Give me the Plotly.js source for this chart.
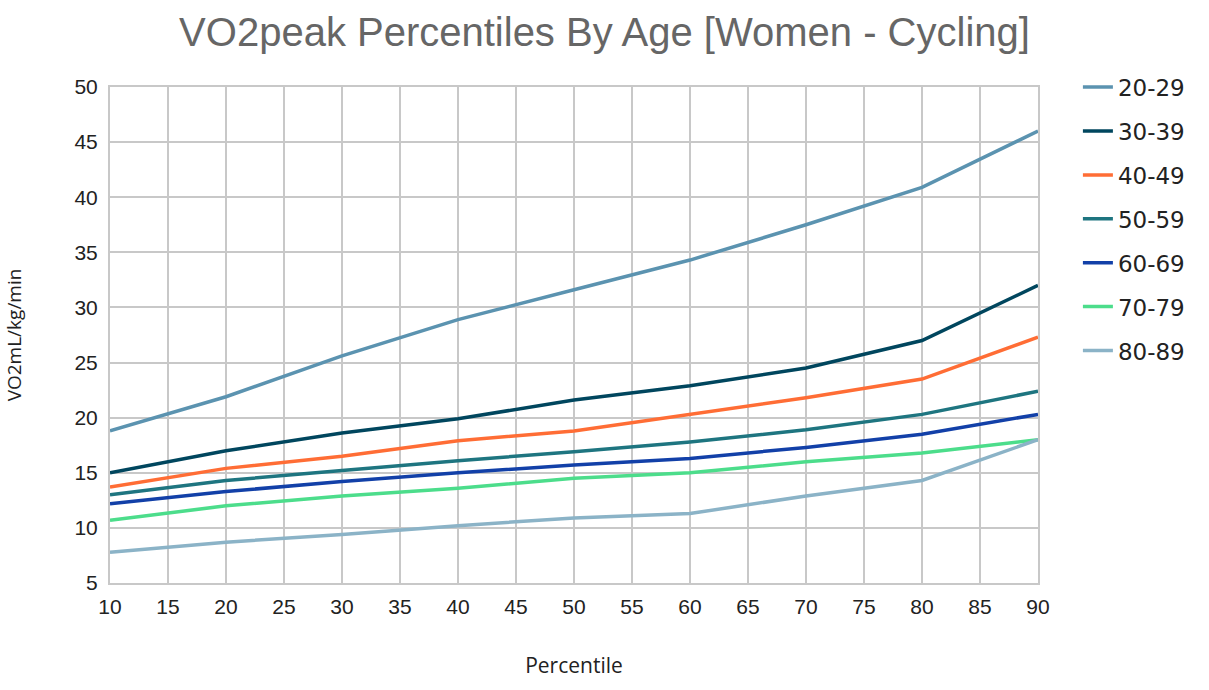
<!DOCTYPE html>
<html>
<head>
<meta charset="utf-8">
<script src="https://cdn.plot.ly/plotly-3.0.1.min.js"></script>
<style>html,body{margin:0;padding:0;background:#fff;}#chart{width:1209px;height:690px;}</style>
</head>
<body>
<div id="chart"></div>
<script>
const percentiles = [10, 20, 30, 40, 50, 60, 70, 80, 90];
const seriesNames = ["20-29", "30-39", "40-49", "50-59", "60-69", "70-79", "80-89"];
const age20_29 = [18.8, 21.9, 25.6, 28.9, 31.6, 34.3, 37.5, 40.9, 46.0];
const age30_39 = [15.0, 17.0, 18.6, 19.9, 21.6, 22.9, 24.5, 27.0, 32.0];
const age40_49 = [13.7, 15.4, 16.5, 17.9, 18.8, 20.3, 21.8, 23.5, 27.3];
const age50_59 = [13.0, 14.3, 15.2, 16.1, 16.9, 17.8, 18.9, 20.3, 22.4];
const age60_69 = [12.2, 13.3, 14.2, 15.0, 15.7, 16.3, 17.3, 18.5, 20.3];
const age70_79 = [10.7, 12.0, 12.9, 13.6, 14.5, 15.0, 16.0, 16.8, 18.0];
const age80_89 = [7.8, 8.7, 9.4, 10.2, 10.9, 11.3, 12.9, 14.3, 18.0];
const xTicks = [10, 15, 20, 25, 30, 35, 40, 45, 50, 55, 60, 65, 70, 75, 80, 85, 90];
const yTicks = [5, 10, 15, 20, 25, 30, 35, 40, 45, 50];

const allSeries = [age20_29, age30_39, age40_49, age50_59, age60_69, age70_79, age80_89];
const colors = ["#5b93b0", "#00465e", "#ff6d35", "#1e7580", "#1240a8", "#4cdd8b", "#8bb3c7"];

const traces = allSeries.map((vals, i) => ({
  x: percentiles,
  y: vals,
  name: seriesNames[i],
  legendgroup: "g" + i,
  type: "scatter",
  mode: "lines",
  line: {color: colors[i], width: 3.5}
}));

const layout = {
  width: 1209,
  height: 690,
  margin: {l: 110, r: 171, t: 87, b: 107},
  paper_bgcolor: "#ffffff",
  plot_bgcolor: "#ffffff",
  title: {
    text: "VO2peak Percentiles By Age [Women - Cycling]",
    font: {family: "Liberation Sans, Arial, sans-serif", size: 40, color: "#666666"},
    x: 0.5, xanchor: "center", y: 0.953, yanchor: "middle"
  },
  xaxis: {
    range: [10, 90],
    tickvals: xTicks,
    ticktext: xTicks.map(String),
    showgrid: true,
    gridcolor: "#c8c8c8",
    gridwidth: 2,
    zeroline: false,
    showline: true,
    linecolor: "#c8c8c8",
    linewidth: 2,
    mirror: true,
    ticks: "",
    ticklabelstandoff: 4,
    tickfont: {family: "Liberation Sans, Arial, sans-serif", size: 21, color: "#222222"},
    title: {text: "Percentile", font: {family: "Open Sans, sans-serif", size: 21, color: "#222222"}, standoff: 41}
  },
  yaxis: {
    range: [5, 50],
    tickvals: yTicks,
    ticktext: yTicks.map(String),
    showgrid: true,
    gridcolor: "#c8c8c8",
    gridwidth: 2,
    zeroline: false,
    showline: true,
    linecolor: "#c8c8c8",
    linewidth: 2,
    mirror: true,
    ticks: "",
    ticklabelstandoff: 6,
    tickfont: {family: "Liberation Sans, Arial, sans-serif", size: 21, color: "#222222"},
    title: {text: "VO2mL/kg/min", font: {family: "Open Sans, sans-serif", size: 19, color: "#222222"}, standoff: 48}
  },
  showlegend: true,
  legend: {
    x: 1.043, xanchor: "left",
    y: 1.043, yanchor: "top",
    font: {family: "DejaVu Sans, sans-serif", size: 23, color: "#222222"},
    tracegroupgap: 11,
    itemwidth: 30,
    bgcolor: "rgba(0,0,0,0)"
  }
};

Plotly.newPlot("chart", traces, layout, {displayModeBar: false, staticPlot: true});
</script>
</body>
</html>
